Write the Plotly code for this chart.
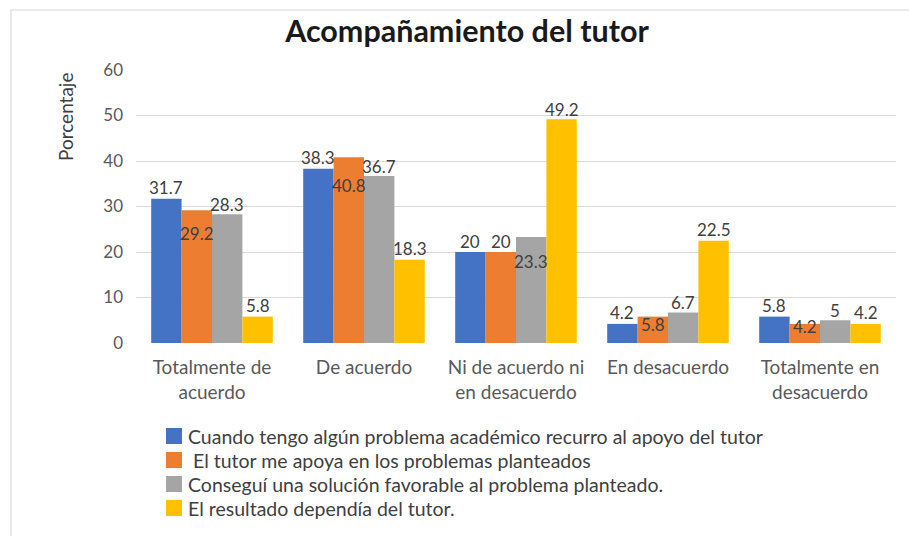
import plotly.graph_objects as go

# Survey categories (x axis)
categorias = ["Totalmente de<br>acuerdo", "De acuerdo", "Ni de acuerdo ni<br>en desacuerdo",
              "En desacuerdo", "Totalmente en<br>desacuerdo"]

# Series names
series = [
    "Cuando tengo algún problema académico recurro al apoyo del tutor",
    " El tutor me apoya en los problemas planteados",
    "Conseguí una solución favorable al problema planteado.",
    "El resultado dependía del tutor.",
]

# Percentages per series
apoyo_tutor = [31.7, 38.3, 20, 4.2, 5.8]
tutor_apoya = [29.2, 40.8, 20, 5.8, 4.2]
solucion_favorable = [28.3, 36.7, 23.3, 6.7, 5]
resultado_tutor = [5.8, 18.3, 49.2, 22.5, 4.2]

valores = [apoyo_tutor, tutor_apoya, solucion_favorable, resultado_tutor]
colores = ["#4472C4", "#ED7D31", "#A5A5A5", "#FFC000"]

# Vertical offset (px) of each value label's centre from its bar top
desplaz = [
    [11, 11, 11, 11, 11],
    [-23, -28, 11, -8, -3],
    [10, 10, -25, 10, 10],
    [11, 11, 10, 11, 11],
]

FONT = "Lato"
TXT = "#595959"
DARK = "#404040"

W, H = 909, 536
L, R, T, B = 136, 13, 70, 193
pw, ph = W - L - R, H - T - B


def px(xp):
    return (xp - L) / pw


def py(yp):
    return (H - B - yp) / ph


fig = go.Figure()
for nombre, vals, col in zip(series, valores, colores):
    fig.add_trace(go.Bar(x=list(range(len(categorias))), y=vals, name=nombre,
                         marker=dict(color=col, line=dict(width=0)), showlegend=False))

# value labels
ancho = 0.8 / len(series)
anots = []
for j, vals in enumerate(valores):
    for i, v in enumerate(vals):
        anots.append(dict(
            x=i + (j - (len(series) - 1) / 2) * ancho, y=v, xref="x", yref="y",
            text=f"{v:g}", showarrow=False, xanchor="center", yanchor="middle",
            yshift=desplaz[j][i], font=dict(family=FONT, size=17, color=DARK)))

# y axis title
anots.append(dict(x=px(65), y=py(117), xref="paper", yref="paper", text="Porcentaje",
                  showarrow=False, textangle=-90, xanchor="center", yanchor="middle",
                  font=dict(family=FONT, size=19, color=DARK)))

# legend drawn as swatches + labels below the plot
shapes = []
for k, (nombre, col) in enumerate(zip(series, colores)):
    yc = 436 + 24 * k
    shapes.append(dict(type="rect", xref="paper", yref="paper",
                       x0=px(166), x1=px(182), y0=py(yc + 8), y1=py(yc - 8),
                       fillcolor=col, line=dict(width=0)))
    anots.append(dict(x=px(186), y=py(yc), xref="paper", yref="paper",
                      text=nombre.replace(" ", "&nbsp;", 1) if nombre.startswith(" ") else nombre,
                      showarrow=False, xanchor="left", yanchor="middle",
                      font=dict(family=FONT, size=19.5, color=DARK)))

# chart frame
shapes.append(dict(type="rect", xref="paper", yref="paper",
                   x0=px(11), x1=px(W + 20), y0=py(H + 20), y1=py(10),
                   line=dict(color="#E3E3E3", width=1.5), fillcolor="rgba(0,0,0,0)",
                   layer="below"))

fig.update_layout(
    width=W, height=H,
    margin=dict(l=L, r=R, t=T, b=B),
    paper_bgcolor="white", plot_bgcolor="white",
    barmode="group", bargap=0.2, bargroupgap=0,
    showlegend=False,
    title=dict(text="<b>Acompañamiento del tutor</b>", x=px(467), xref="paper",
               xanchor="center", y=1 - 31 / H, yanchor="middle",
               font=dict(family=FONT, size=30.5, color="#1a1a1a")),
    font=dict(family=FONT, size=17, color=TXT),
    xaxis=dict(tickmode="array", tickvals=list(range(len(categorias))), ticktext=categorias,
               range=[-0.5, len(categorias) - 0.5], showgrid=False, zeroline=False,
               showline=False, ticks="", ticklabelstandoff=11,
               tickfont=dict(family=FONT, size=19, color=TXT)),
    yaxis=dict(range=[0, 60], dtick=10, showgrid=True, gridcolor="#D9D9D9", gridwidth=1,
               zeroline=False, showline=False, ticks="", ticklabelstandoff=12,
               tickfont=dict(family=FONT, size=17, color=TXT)),
    annotations=anots,
    shapes=shapes,
)

fig.write_html("out.html")
